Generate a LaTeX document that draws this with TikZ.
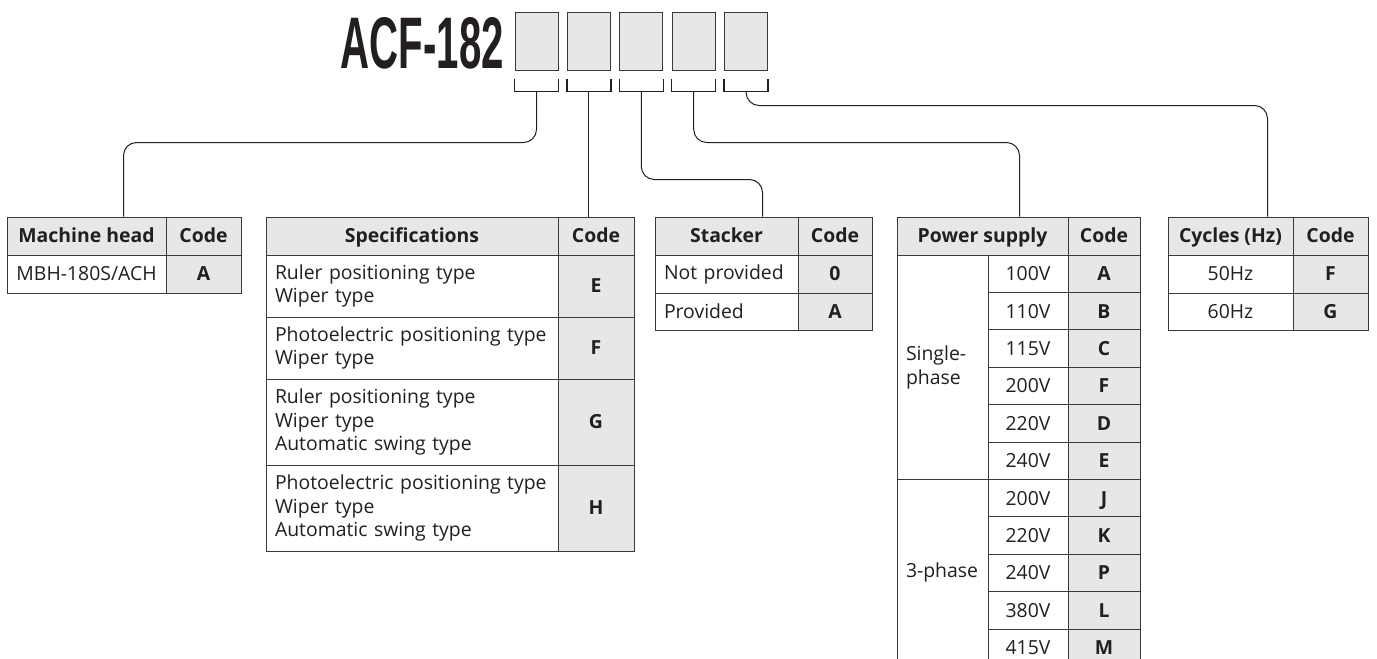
\documentclass[tikz,border=0pt]{standalone}
\usepackage{fontspec}
\setmainfont{Open Sans}
\newfontfamily\titlefont{Liberation Sans}
\usepackage{graphicx}
\definecolor{ink}{HTML}{231F20}
\definecolor{cellgray}{HTML}{E6E7E8}
\definecolor{rulecol}{HTML}{3A3A3A}
\newcommand\bodyfont{\fontsize{19.4}{23.6}\selectfont}
\newcommand\tcell[7]{%
  \pgfmathsetmacro\cw{(#4)-(#2)}\pgfmathsetmacro\ch{(#5)-(#3)}%
  \pgfmathsetmacro\cx{((#2)+(#4))/2}\pgfmathsetmacro\cy{((#3)+(#5))/2}%
  \node[cellbase,#6,text height=13.9pt,text depth=0pt,minimum width=\cw pt,minimum height=\ch pt] (#1) at (\cx,\cy) {#7};}
\newcommand\lcell[7]{%
  \pgfmathsetmacro\cw{(#4)-(#2)}\pgfmathsetmacro\ch{(#5)-(#3)}%
  \pgfmathsetmacro\tw{(#4)-(#2)-18}%
  \pgfmathsetmacro\cx{((#2)+(#4))/2}\pgfmathsetmacro\cy{((#3)+(#5))/2}%
  \node[cellbase,#6,minimum width=\cw pt,minimum height=\ch pt,text width=\tw pt,align=left] (#1) at (\cx,\cy) {#7};}
\begin{document}
\begin{tikzpicture}[x=1pt,y=-1pt,
  cellbase/.style={draw=rulecol,line width=1pt,inner sep=0pt,font=\bodyfont,text=ink},
  hd/.style={fill=cellgray,font=\bodyfont\bfseries},
  wh/.style={fill=white},
  cd/.style={fill=cellgray,font=\bodyfont\bfseries},
  codebox/.style={draw=rulecol,line width=1pt,fill=cellgray,minimum width=43pt,minimum height=58pt,inner sep=0pt},
  brk/.style={draw=ink,line width=1.5pt},
  conn/.style={draw=ink,line width=1pt,rounded corners=13pt}]
\useasboundingbox (0,0) rectangle (1377,659);
\clip (0,0) rectangle (1377,659);
\fill[white] (0,0) rectangle (1377,659);

% title
\node[anchor=south east,inner sep=0pt,text=ink] (title) at (504,69)
  {\resizebox{163pt}{51pt}{\titlefont\bfseries ACF-182}};
\foreach \i in {1,...,5}{
  \pgfmathsetmacro\bx{515+52.4*(\i-1)+21.5}
  \node[codebox] (b\i) at (\bx,41) {};
  \draw[brk] ([yshift=-8pt]b\i.south west) -- ++(0,-13pt) -| ([yshift=-8pt]b\i.south east);
  \coordinate (s\i) at ([yshift=-21pt]b\i.south);
}

% Machine head table
\tcell{mhH}{7}{217}{166}{255}{hd}{Machine head}
\tcell{mhC}{166}{217}{241}{255}{hd}{Code}
\tcell{mh1}{7}{255}{166}{293}{wh}{MBH-180S/ACH}
\tcell{mh1c}{166}{255}{241}{293}{cd}{A}

% Specifications table
\tcell{spH}{266}{217}{558}{255}{hd}{Specifications}
\tcell{spC}{558}{217}{634}{255}{hd}{Code}
\lcell{sp1}{266}{255}{558}{317}{wh}{Ruler positioning type\\Wiper type}
\tcell{sp1c}{558}{255}{634}{317}{cd}{E}
\lcell{sp2}{266}{317}{558}{379}{wh}{Photoelectric positioning type\\Wiper type}
\tcell{sp2c}{558}{317}{634}{379}{cd}{F}
\lcell{sp3}{266}{379}{558}{465}{wh}{Ruler positioning type\\Wiper type\\Automatic swing type}
\tcell{sp3c}{558}{379}{634}{465}{cd}{G}
\lcell{sp4}{266}{465}{558}{551}{wh}{Photoelectric positioning type\\Wiper type\\Automatic swing type}
\tcell{sp4c}{558}{465}{634}{551}{cd}{H}

% Stacker table
\tcell{stH}{655}{217}{798}{255}{hd}{Stacker}
\tcell{stC}{798}{217}{872}{255}{hd}{Code}
\lcell{st1}{655}{255}{798}{293}{wh}{Not provided}
\tcell{st1c}{798}{255}{872}{293}{cd}{0}
\lcell{st2}{655}{293}{798}{330}{wh}{Provided}
\tcell{st2c}{798}{293}{872}{330}{cd}{A}

% Power supply table
\tcell{pwH}{897}{217}{1068}{255}{hd}{Power supply}
\tcell{pwC}{1068}{217}{1140}{255}{hd}{Code}
\lcell{pwS}{897}{255}{988}{479.4}{wh}{Single-\\phase}
\lcell{pwT}{897}{479.4}{988}{666.4}{wh}{3-phase}
\foreach \v/\c [count=\i] in {100V/A,110V/B,115V/C,200V/F,220V/D,240V/E,200V/J,220V/K,240V/P,380V/L,415V/M}{
  \pgfmathsetmacro\ya{255+37.4*(\i-1)}
  \pgfmathsetmacro\yb{255+37.4*\i}
  \tcell{pv\i}{988}{\ya}{1068}{\yb}{wh}{\v}
  \tcell{pc\i}{1068}{\ya}{1140}{\yb}{cd}{\c}
}

% Cycles table
\tcell{cyH}{1168}{217}{1293}{255}{hd}{Cycles (Hz)}
\tcell{cyC}{1293}{217}{1368}{255}{hd}{Code}
\tcell{cy1}{1168}{255}{1293}{293}{wh}{50Hz}
\tcell{cy1c}{1293}{255}{1368}{293}{cd}{F}
\tcell{cy2}{1168}{293}{1293}{330}{wh}{60Hz}
\tcell{cy2c}{1293}{293}{1368}{330}{cd}{G}

% connectors
\draw[conn] (s1) |- ([xshift=117pt,yshift=74pt]mhH.north west) -- ([xshift=117pt]mhH.north west);
\draw[conn] (s2) -- (s2 |- spC.north);
\draw[conn] (s3) |- ([xshift=108pt,yshift=37pt]stH.north west) -- ([xshift=108pt]stH.north west);
\draw[conn] (s4) |- ([xshift=123pt,yshift=74pt]pwH.north west) -- ([xshift=123pt]pwH.north west);
\draw[conn] (s5) |- ([xshift=100pt,yshift=111pt]cyH.north west) -- ([xshift=100pt]cyH.north west);
\end{tikzpicture}
\end{document}
